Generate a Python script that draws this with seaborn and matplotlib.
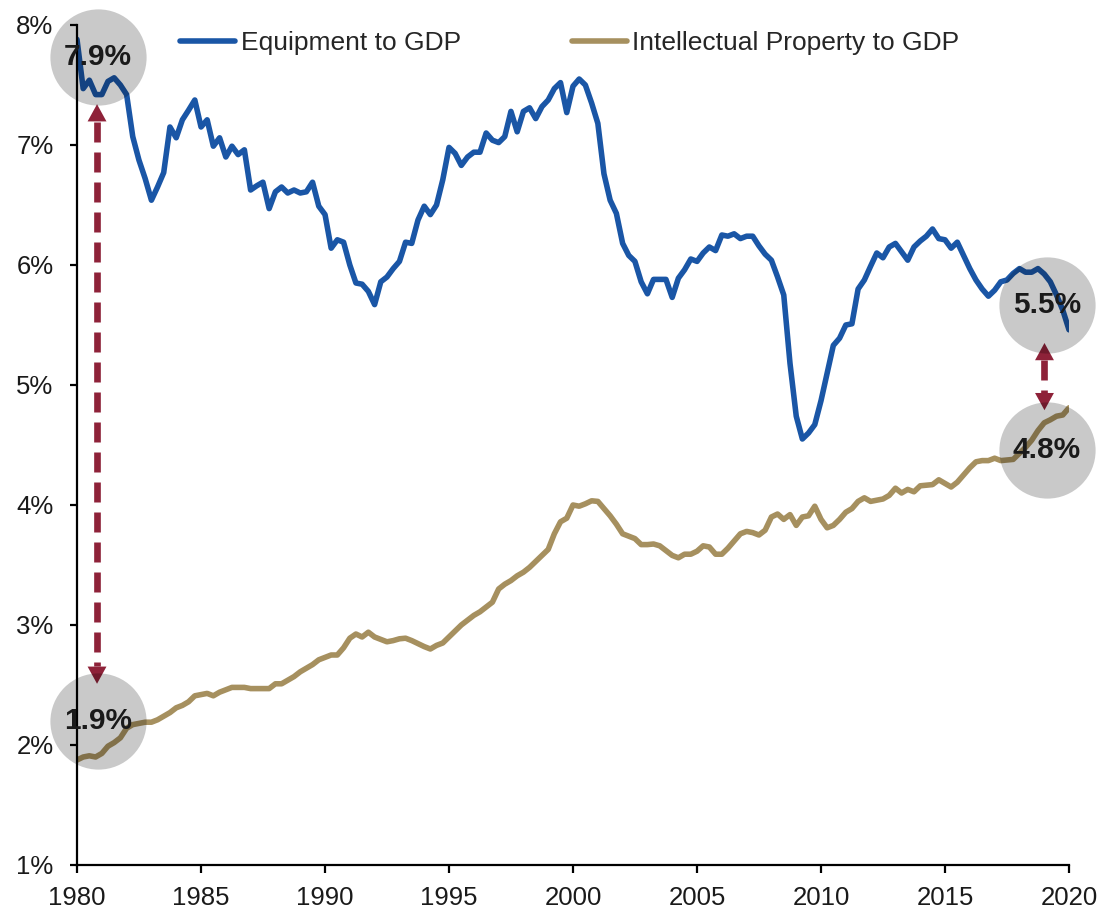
import pandas as pd
import numpy as np
import matplotlib
matplotlib.use('Agg')
import matplotlib.pyplot as plt
import matplotlib.dates as mdates
from matplotlib.ticker import PercentFormatter
import seaborn as sns

# quarterly ratios, % of GDP, 1980Q1 - 2020Q1
equipment = [7.88, 7.47, 7.54, 7.42, 7.42, 7.53, 7.56, 7.50, 7.42, 7.07,
             6.875, 6.72, 6.54, 6.65, 6.77, 7.15, 7.06, 7.21, 7.29, 7.375,
             7.15, 7.21, 6.99, 7.06, 6.90, 6.99, 6.92, 6.96, 6.625, 6.66,
             6.69, 6.47, 6.61, 6.65, 6.60, 6.625, 6.60, 6.61, 6.69, 6.49,
             6.42, 6.14, 6.21, 6.19, 6.00, 5.85, 5.84, 5.78, 5.67, 5.86,
             5.90, 5.97, 6.03, 6.19, 6.18, 6.375, 6.49, 6.42, 6.50, 6.71,
             6.98, 6.93, 6.83, 6.90, 6.94, 6.94, 7.10, 7.04, 7.02, 7.07,
             7.28, 7.11, 7.28, 7.31, 7.22, 7.32, 7.375, 7.47, 7.52, 7.27,
             7.49, 7.55, 7.50, 7.35, 7.18, 6.76, 6.54, 6.43, 6.18, 6.08,
             6.03, 5.86, 5.76, 5.88, 5.88, 5.88, 5.73, 5.89, 5.96, 6.05,
             6.03, 6.10, 6.15, 6.12, 6.25, 6.24, 6.26, 6.22, 6.24, 6.24,
             6.16, 6.09, 6.04, 5.90, 5.75, 5.18, 4.74, 4.55, 4.60, 4.67,
             4.87, 5.10, 5.33, 5.39, 5.50, 5.51, 5.80, 5.875, 5.99, 6.10,
             6.06, 6.15, 6.18, 6.11, 6.04, 6.15, 6.20, 6.24, 6.30, 6.22,
             6.21, 6.14, 6.19, 6.08, 5.97, 5.875, 5.80, 5.74, 5.79, 5.86,
             5.875, 5.93, 5.97, 5.94, 5.94, 5.97, 5.925, 5.86, 5.75, 5.625,
             5.46]

intellectual = [1.875, 1.90, 1.91, 1.90, 1.93, 1.99, 2.02, 2.06, 2.14, 2.17,
                2.18, 2.19, 2.19, 2.21, 2.24, 2.27, 2.31, 2.33, 2.36, 2.41,
                2.42, 2.43, 2.41, 2.44, 2.46, 2.48, 2.48, 2.48, 2.47, 2.47,
                2.47, 2.47, 2.51, 2.51, 2.54, 2.57, 2.61, 2.64, 2.67, 2.71,
                2.73, 2.75, 2.75, 2.81, 2.89, 2.925, 2.90, 2.94, 2.90, 2.88,
                2.86, 2.87, 2.885, 2.89, 2.87, 2.845, 2.82, 2.80, 2.83, 2.85,
                2.90, 2.95, 3.00, 3.04, 3.08, 3.11, 3.15, 3.19, 3.30, 3.34,
                3.37, 3.41, 3.44, 3.48, 3.53, 3.58, 3.63, 3.76, 3.86, 3.89,
                4.00, 3.99, 4.01, 4.035, 4.03, 3.97, 3.91, 3.84, 3.76, 3.74,
                3.72, 3.67, 3.67, 3.675, 3.66, 3.62, 3.58, 3.56, 3.59, 3.59,
                3.615, 3.66, 3.65, 3.59, 3.59, 3.64, 3.70, 3.76, 3.78, 3.77,
                3.75, 3.79, 3.90, 3.925, 3.88, 3.92, 3.83, 3.90, 3.91, 3.99,
                3.88, 3.81, 3.83, 3.88, 3.94, 3.97, 4.03, 4.06, 4.03, 4.04,
                4.05, 4.08, 4.14, 4.10, 4.13, 4.11, 4.16, 4.165, 4.17, 4.21,
                4.18, 4.15, 4.19, 4.25, 4.31, 4.36, 4.37, 4.37, 4.39, 4.37,
                4.375, 4.38, 4.43, 4.48, 4.54, 4.62, 4.685, 4.71, 4.74, 4.75,
                4.81]

series_names = ['Equipment to GDP', 'Intellectual Property to GDP']
series_colors = ['#1A56A6', '#A6905F']

# callouts: label, date, value
callouts = [('7.9%', '1980-11-05', 7.73),
            ('1.9%', '1980-11-05', 2.20),
            ('5.5%', '2019-02-08', 5.67),
            ('4.8%', '2019-02-05', 4.46)]
# gap arrows: date, top tip, bottom tip
gap_arrows = [('1980-10-22', 7.34, 2.51),
              ('2019-01-05', 5.35, 4.79)]

dates = pd.date_range('1980-01-01', periods=len(equipment), freq='QS')
df = pd.concat([
    pd.DataFrame({'date': dates, 'value': equipment, 'series': series_names[0]}),
    pd.DataFrame({'date': dates, 'value': intellectual, 'series': series_names[1]}),
])

sns.set_style('ticks')
plt.rcParams['font.family'] = ['Liberation Sans', 'DejaVu Sans']

fig = plt.figure(figsize=(11.01, 9.10), dpi=100)
ax = fig.add_axes([77 / 1101, 1 - 865 / 910, (1069 - 77) / 1101, (865 - 25) / 910])

sns.lineplot(data=df, x='date', y='value', hue='series', hue_order=series_names,
             palette=dict(zip(series_names, series_colors)), linewidth=4.0, ax=ax)

arrow_color = '#8E2239'
head_len = 0.145  # head length in data units
for d, top, bot in gap_arrows:
    x = pd.Timestamp(d)
    ax.plot([x, x], [top - head_len, bot + head_len], color=arrow_color, lw=4.8,
            linestyle=(0, (3.0, 1.5)), solid_capstyle='butt', dash_capstyle='butt', zorder=4)
    for tip, off in [(top, -13), (bot, 13)]:
        ax.annotate('', xy=(x, tip), xytext=(0, off), textcoords='offset points',
                    arrowprops=dict(arrowstyle='-|>,head_length=0.62,head_width=0.34',
                                    color=arrow_color, lw=0, shrinkA=0, shrinkB=0,
                                    mutation_scale=20), zorder=4)

for lab, d, v in callouts:
    ax.scatter([pd.Timestamp(d)], [v], s=4800, color='black', alpha=0.21,
               linewidths=0, zorder=5, clip_on=False)
    ax.text(pd.Timestamp(d), v, lab, ha='center', va='center', fontsize=21.5,
            fontweight='bold', color='#1a1a1a', zorder=6)

ax.set_xlim(pd.Timestamp('1980-01-01'), pd.Timestamp('2020-01-01'))
ax.set_ylim(1, 8)
ax.xaxis.set_major_locator(mdates.YearLocator(5))
ax.xaxis.set_major_formatter(mdates.DateFormatter('%Y'))
ax.yaxis.set_major_formatter(PercentFormatter(xmax=100, decimals=0))
ax.set_xlabel('')
ax.set_ylabel('')

sns.despine(ax=ax)
for s in ['left', 'bottom']:
    ax.spines[s].set_linewidth(1.6)
    ax.spines[s].set_color('black')
ax.tick_params(axis='y', length=5, width=1.6, pad=12, labelsize=18.5, colors='#1a1a1a')
ax.tick_params(axis='x', length=6, width=1.6, pad=9, labelsize=18.5, colors='#1a1a1a')
ax.tick_params(color='black')

h, l = ax.get_legend_handles_labels()
for hd in h:
    hd.set_linewidth(4.0)
ax.legend(h, l, loc='center left', bbox_to_anchor=(180 / 1101, 1 - 43 / 910),
          bbox_transform=fig.transFigure, ncol=2, frameon=False, fontsize=19,
          borderpad=0, borderaxespad=0, handlelength=2.1, handletextpad=0.2,
          columnspacing=4.2)

plt.savefig('out.png', dpi=100)
